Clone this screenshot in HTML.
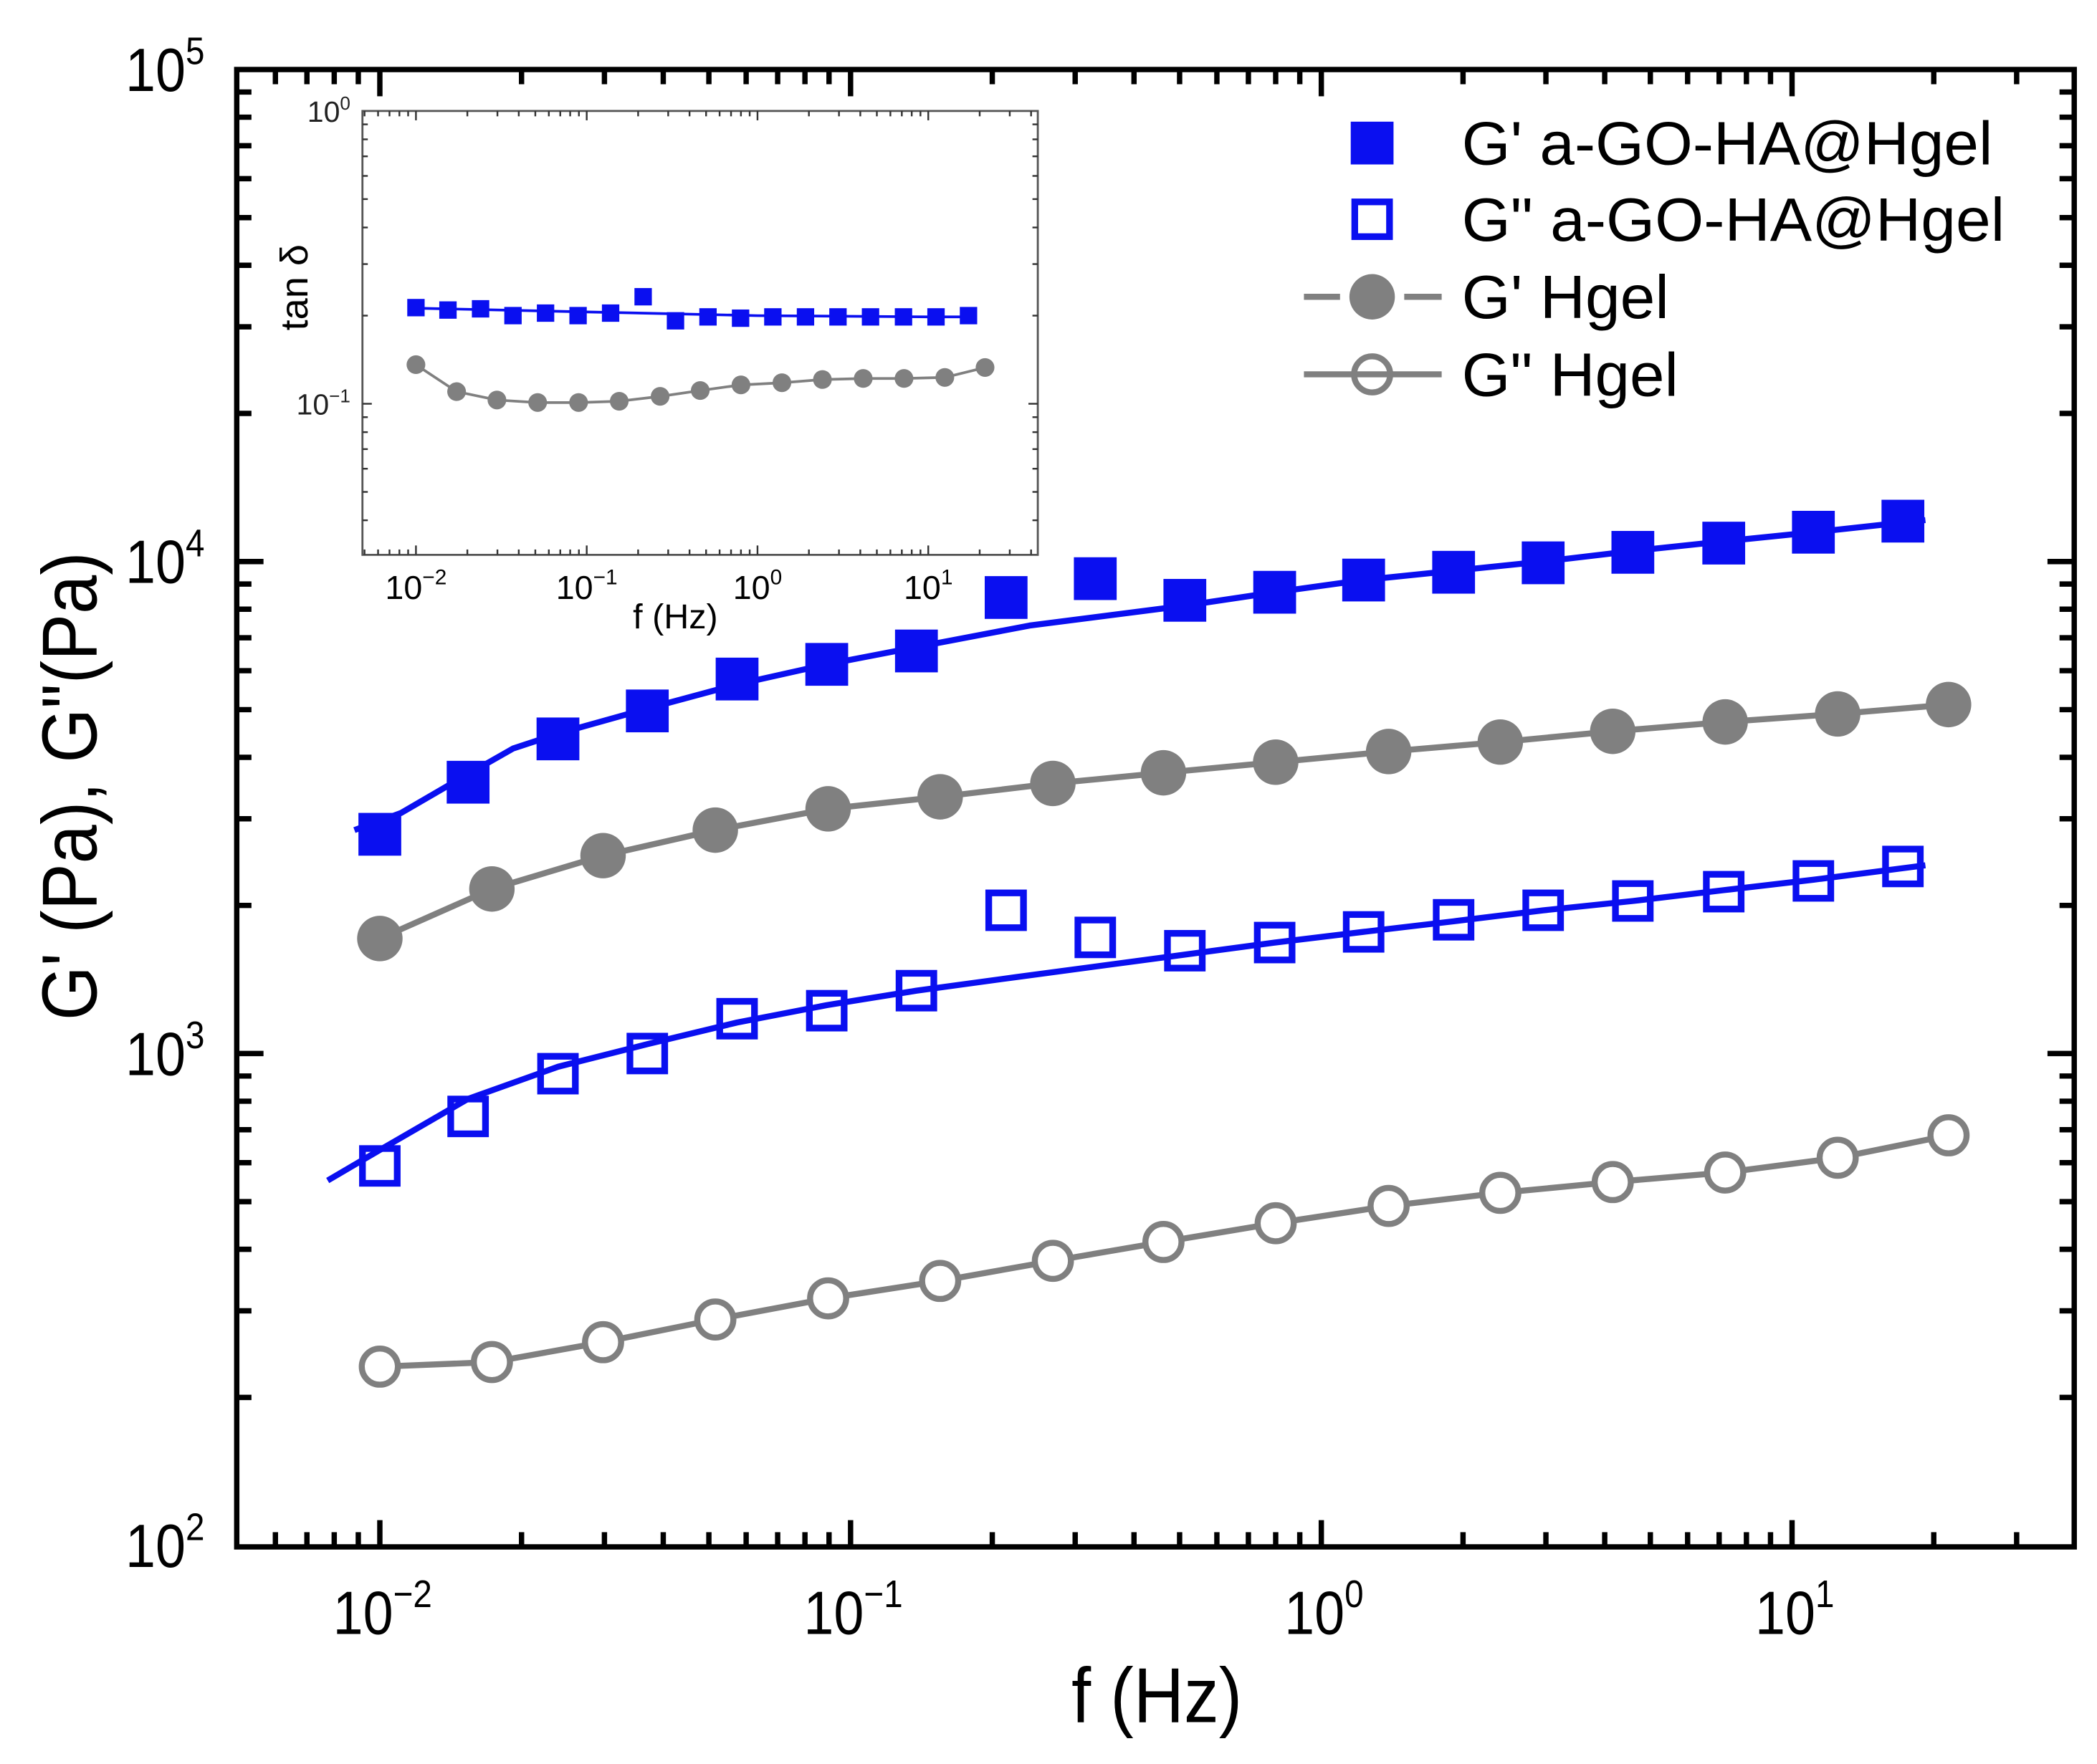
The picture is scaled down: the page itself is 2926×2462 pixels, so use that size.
<!DOCTYPE html>
<html><head><meta charset="utf-8"><style>html,body{margin:0;padding:0;background:#fff}svg{display:block}text{font-family:"Liberation Sans",sans-serif}</style></head>
<body>
<svg id="chart" xmlns="http://www.w3.org/2000/svg" width="2926" height="2462" viewBox="0 0 1568 1319.4">
<rect x="0" y="0" width="1568" height="1320" fill="#fff"/>
<g id="main"></g>
<g id="inset"></g>
</svg>
<script>
// ---- main chart data ----
const freqA = [0.01,0.0154,0.0239,0.037,0.0574,0.089,0.138,0.214,0.331,0.513,0.796,1.23,1.91,2.96,4.59,7.16,11.1,17.2];
const gpA = [2790,3560,4360,4970,5770,6180,6580,8450,9230,8340,8660,9170,9510,9940,10440,10900,11470,12080];
const gppA = [591,745,910,1000,1177,1222,1342,1955,1722,1618,1681,1767,1870,1955,2042,2133,2243,2400];
const fitFreqA = [0.00883,0.0111,0.0144,0.0192,0.0243,0.037,0.0574,0.089,0.138,0.240,0.513,0.796,1.23,1.91,2.96,4.59,7.16,11.1,19.2];
const fitGpA = [2845,3085,3564,4169,4490,5025,5627,6181,6702,7410,8136,8660,9170,9580,10000,10510,10990,11470,12140];
const fitFreqA2 = [0.00775,0.01,0.0154,0.0239,0.037,0.0574,0.089,0.138,0.225,0.513,0.796,1.23,1.91,2.96,4.59,7.16,11.1,19.2];
const fitGppA = [552,637,809,940,1045,1156,1254,1342,1430,1589,1681,1767,1857,1955,2042,2148,2256,2414];
const freqH = [0.01,0.0173,0.0298,0.0516,0.0896,0.155,0.269,0.462,0.800,1.39,2.40,4.16,7.21,12.5,21.5];
const gpH = [1713,2160,2525,2845,3143,3325,3540,3720,3910,4110,4296,4517,4720,4900,5120];
const gppH = [231,236,259,288,318,345,379,414,452,490,521,548,573,614,682];
const xTickLabels = ['-2','-1','0','1'];
const yTickLabels = ['2','3','4','5'];
// ---- inset data ----
const tanA = [0.213,0.209,0.211,0.200,0.204,0.200,0.204,0.232,0.192,0.198,0.196,0.198,0.198,0.198,0.198,0.198,0.198,0.200];
const tanFitFreq = [0.01,0.1,1,10,17.2];
const tanFit = [0.212,0.206,0.200,0.198,0.198];
const tanH = [0.136,0.110,0.103,0.101,0.101,0.102,0.106,0.111,0.116,0.118,0.121,0.122,0.122,0.123,0.133];
const insetXTickLabels = ['-2','-1','0','1'];
const insetYTickLabels = ['0','-1'];

const NS='http://www.w3.org/2000/svg';
function mk(parent,tag,attrs){const e=document.createElementNS(NS,tag);for(const k in attrs)e.setAttribute(k,attrs[k]);parent.appendChild(e);return e;}
const BLUE='#0a0ff0', GREY='#808080';
const L=177,R=1551,T=52,B=1157;
const xs=f=>284+(Math.log10(f)+2)*352;
const ys=g=>52+(5-Math.log10(g))*368;
const main=document.getElementById('main');

function pathOf(fx,fy,xf,yf){return fx.map((f,i)=>(i?'L':'M')+xf(f).toFixed(1)+','+yf(fy[i]).toFixed(1)).join(' ');}

let p;
p=mk(main,'path',{d:pathOf(fitFreqA,fitGpA,xs,ys),fill:'none',stroke:BLUE,'stroke-width':4.5,'stroke-linejoin':'round'});


p=mk(main,'path',{d:pathOf(fitFreqA2,fitGppA,xs,ys),fill:'none',stroke:BLUE,'stroke-width':4.5,'stroke-linejoin':'round'});


p=mk(main,'path',{d:pathOf(freqH,gpH,xs,ys),fill:'none',stroke:GREY,'stroke-width':4.5,'stroke-linejoin':'round'});


p=mk(main,'path',{d:pathOf(freqH,gppH,xs,ys),fill:'none',stroke:GREY,'stroke-width':4.5,'stroke-linejoin':'round'});



freqA.forEach((f,i)=>{
  const r=mk(main,'rect',{x:xs(f)-16,y:ys(gpA[i])-16,width:32,height:32,fill:BLUE});
  
  
  const o=mk(main,'rect',{x:xs(f)-13,y:ys(gppA[i])-13,width:26,height:26,fill:'none',stroke:BLUE,'stroke-width':5});
  
  
});
freqH.forEach((f,i)=>{
  const c=mk(main,'circle',{cx:xs(f),cy:ys(gpH[i]),r:17,fill:GREY});
  
  
  const o=mk(main,'circle',{cx:xs(f),cy:ys(gppH[i]),r:13.5,fill:'#fff',stroke:GREY,'stroke-width':4.5});
  
  
});

const fr=mk(main,'rect',{x:L,y:T,width:R-L,height:B-T,fill:'none',stroke:'#000','stroke-width':4});


for(let d=-3;d<=1;d++){for(let m=1;m<10;m++){const f=m*Math.pow(10,d);const x=xs(f);if(x<L+2||x>R-2)continue;const len=m===1?20:11;
  mk(main,'line',{x1:x,y1:B,x2:x,y2:B-len,stroke:'#000','stroke-width':4});
  mk(main,'line',{x1:x,y1:T,x2:x,y2:T+len,stroke:'#000','stroke-width':4});}}
for(let d=2;d<=4;d++){for(let m=1;m<10;m++){const g=m*Math.pow(10,d);const y=ys(g);const len=m===1?20:11;if(m===1&&d===2)continue;
  mk(main,'line',{x1:L,y1:y,x2:L+len,y2:y,stroke:'#000','stroke-width':4});
  mk(main,'line',{x1:R,y1:y,x2:R-len,y2:y,stroke:'#000','stroke-width':4});}}
xTickLabels.forEach(e=>{const x=xs(Math.pow(10,+e));
  const t=mk(main,'text',{x:0,y:0,'font-size':46,'text-anchor':'middle',transform:'translate('+(x+2)+',1222) scale(0.88,1)'});
  
  
  t.innerHTML='10<tspan dy="-20" font-size="29">'+(e.startsWith('-')?'\u2212'+e.slice(1):e)+'</tspan>';});
yTickLabels.forEach(e=>{const y=ys(Math.pow(10,+e));
  const t=mk(main,'text',{x:0,y:0,'font-size':46,'text-anchor':'end',transform:'translate(153,'+(y+16)+') scale(0.88,1)'});
  
  
  t.innerHTML='10<tspan dy="-20" font-size="29">'+e+'</tspan>';});
let t=mk(main,'text',{x:0,y:0,'font-size':58,'text-anchor':'middle',transform:'translate(865,1288) scale(0.9,1)'});t.textContent='f (Hz)';


t=mk(main,'text',{x:0,y:0,'font-size':58,'text-anchor':'middle',transform:'translate(72,588) rotate(-90) scale(0.9,1)'});t.textContent='G\' (Pa), G"(Pa)';



const leg=mk(main,'g',{});


const ly=[107,164,222,280], labels=["G' a-GO-HA@Hgel",'G" a-GO-HA@Hgel',"G' Hgel",'G" Hgel'], lw=[397,406,155,162];
mk(leg,'rect',{x:1010,y:ly[0]-16,width:32,height:32,fill:BLUE});
mk(leg,'rect',{x:1013,y:ly[1]-13,width:26,height:26,fill:'none',stroke:BLUE,'stroke-width':5});
mk(leg,'line',{x1:975,y1:ly[2],x2:1002,y2:ly[2],stroke:GREY,'stroke-width':4.5});
mk(leg,'line',{x1:1050,y1:ly[2],x2:1078,y2:ly[2],stroke:GREY,'stroke-width':4.5});
mk(leg,'circle',{cx:1026,cy:ly[2],r:17,fill:GREY});
mk(leg,'line',{x1:975,y1:ly[3],x2:1078,y2:ly[3],stroke:GREY,'stroke-width':4.5});
mk(leg,'circle',{cx:1026,cy:ly[3],r:13.5,fill:'none',stroke:GREY,'stroke-width':4.5});
labels.forEach((s,i)=>{const tt=mk(leg,'text',{x:1093,y:ly[i]+16,'font-size':46,textLength:lw[i],lengthAdjust:'spacingAndGlyphs'});tt.textContent=s;
  
  });

const ins=document.getElementById('inset');


const iL=271,iR=776,iT=83,iB=415;
const ix=f=>311+(Math.log10(f)+2)*127.7;
const iy=v=>83+(0-Math.log10(v))*219;
mk(ins,'rect',{x:iL,y:iT,width:iR-iL,height:iB-iT,fill:'#fff',stroke:'#555','stroke-width':1.5});
p=mk(ins,'path',{d:pathOf(tanFitFreq,tanFit,ix,iy),fill:'none',stroke:BLUE,'stroke-width':2});


p=mk(ins,'path',{d:pathOf(freqH,tanH,ix,iy),fill:'none',stroke:GREY,'stroke-width':2});


freqA.forEach((f,i)=>{const r=mk(ins,'rect',{x:ix(f)-6.5,y:iy(tanA[i])-6.5,width:13,height:13,fill:BLUE});
  
  });
freqH.forEach((f,i)=>{const c=mk(ins,'circle',{cx:ix(f),cy:iy(tanH[i]),r:7,fill:GREY});
  
  });
for(let d=-3;d<=1;d++){for(let m=1;m<10;m++){const x=ix(m*Math.pow(10,d));if(x<iL+1||x>iR-1)continue;const len=m===1?7:4;
  mk(ins,'line',{x1:x,y1:iB,x2:x,y2:iB-len,stroke:'#333','stroke-width':1.3});
  mk(ins,'line',{x1:x,y1:iT,x2:x,y2:iT+len,stroke:'#333','stroke-width':1.3});}}
for(let d=-2;d<=-1;d++){for(let m=1;m<10;m++){const y=iy(m*Math.pow(10,d));if(y>iB-1||y<iT+1)continue;const len=m===1?7:4;
  mk(ins,'line',{x1:iL,y1:y,x2:iL+len,y2:y,stroke:'#333','stroke-width':1.3});
  mk(ins,'line',{x1:iR,y1:y,x2:iR-len,y2:y,stroke:'#333','stroke-width':1.3});}}
insetXTickLabels.forEach(e=>{const x=ix(Math.pow(10,+e));
  const tt=mk(ins,'text',{x:x,y:448,'font-size':25,'text-anchor':'middle'});
  
  
  tt.innerHTML='10<tspan dy="-11" font-size="16">'+(e.startsWith('-')?'\u2212'+e.slice(1):e)+'</tspan>';});
insetYTickLabels.forEach(e=>{const y=iy(Math.pow(10,+e));
  const tt=mk(ins,'text',{x:262,y:y+8,'font-size':22,'text-anchor':'end',fill:'#222'});
  
  
  tt.innerHTML='10<tspan dy="-9" font-size="14">'+(e.startsWith('-')?'\u2212'+e.slice(1):e)+'</tspan>';});
t=mk(ins,'text',{x:505,y:470,'font-size':26,'text-anchor':'middle'});t.textContent='f (Hz)';


t=mk(ins,'text',{x:0,y:0,'font-size':29,'text-anchor':'middle',transform:'translate(230,215) rotate(-90)'});t.textContent='tan \u03b4';


</script>
</body></html>
